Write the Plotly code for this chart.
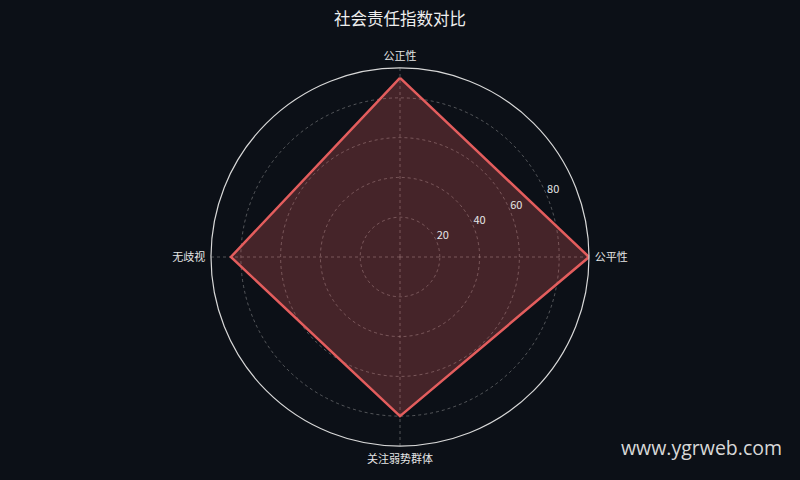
import plotly.graph_objects as go

# categories and values
categories = ["公正性", "公平性", "关注弱势群体", "无歧视"]
values = [90, 95, 80, 85]
radial_ticks = [20, 40, 60, 80]

BG = "#0c1017"
LINE = "#e35d5d"
GRID = "rgba(170,170,170,0.45)"
TXT = "#e6e6e6"

# one spoke per category, clockwise from the top
step = 360 / len(categories)
theta = [i * step for i in range(len(categories))]

fig = go.Figure()
fig.add_trace(go.Scatterpolar(
    r=values + values[:1],
    theta=theta + theta[:1],
    mode="lines",
    fill="toself",
    fillcolor="rgba(227,93,93,0.27)",
    line=dict(color=LINE, width=2.5),
    showlegend=False,
    hoverinfo="skip",
))

# radial tick labels, sitting just right of the radial axis direction
label_angle = step * 0.75
fig.add_trace(go.Scatterpolar(
    r=radial_ticks,
    theta=[label_angle] * len(radial_ticks),
    mode="text",
    text=[str(v) for v in radial_ticks],
    textposition="top right",
    textfont=dict(size=11, color=TXT, family="Noto Sans CJK SC"),
    showlegend=False,
    hoverinfo="skip",
))

fig.update_layout(
    width=800, height=480,
    paper_bgcolor=BG, plot_bgcolor=BG,
    font=dict(family="Noto Sans CJK SC", color=TXT, size=11),
    title=dict(text="社会责任指数对比", x=0.5, y=0.96, xanchor="center", yanchor="middle",
               font=dict(size=16.5, color="#eeeeee")),
    margin=dict(l=40, r=40, t=68, b=34),
    polar=dict(
        bgcolor=BG,
        radialaxis=dict(
            range=[0, 95],
            tickvals=radial_ticks,
            showticklabels=False,
            showline=False,
            ticks="",
            gridcolor=GRID,
            griddash="3px,3px",
            gridwidth=1,
        ),
        angularaxis=dict(
            type="linear",
            thetaunit="degrees",
            rotation=90,
            direction="clockwise",
            tickmode="array",
            tickvals=theta,
            ticktext=categories,
            showline=True,
            linecolor="#d8d8d8",
            linewidth=1.2,
            gridcolor=GRID,
            griddash="3px,3px",
            gridwidth=1,
            ticks="outside",
            ticklen=3,
            tickcolor="rgba(0,0,0,0)",
            tickfont=dict(size=11, color=TXT),
        ),
    ),
    annotations=[dict(
        text="www.ygrweb.com", x=1.033, y=-0.005, xref="paper", yref="paper",
        xanchor="right", yanchor="middle", showarrow=False,
        font=dict(family="Open Sans", size=19.5, color="#d8d8d8"),
    )],
)

fig.write_html("out.html", config={"displayModeBar": False},
               post_script="document.body.style.margin='0';")
